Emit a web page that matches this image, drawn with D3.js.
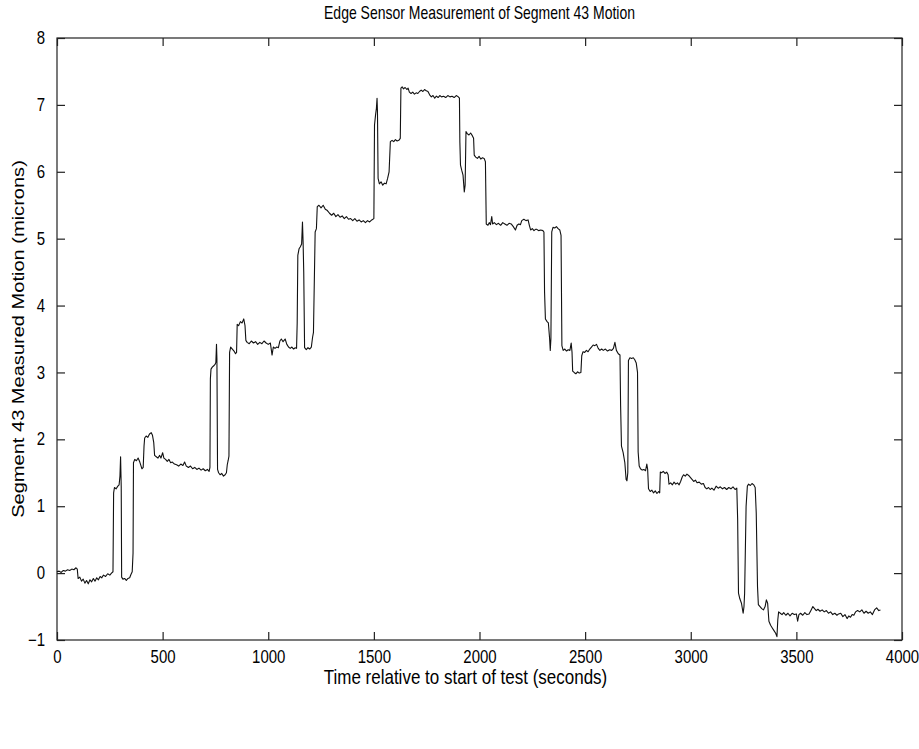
<!DOCTYPE html>
<html>
<head>
<meta charset="utf-8">
<script src="https://cdn.jsdelivr.net/npm/d3@7"></script>
<style>
  body { margin: 0; background: #fff; }
  text { font-family: "Liberation Sans", Arial, sans-serif; fill: #000; }
</style>
</head>
<body>
<div id="canvas"></div>
<script>
"use strict"

// sample times (seconds) and edge sensor readings (microns)
let times = [
  0, 10, 20, 30, 40, 50, 60, 70, 80, 90, 96,
  100, 108, 116, 124, 132, 140, 148, 156, 164, 172, 180, 188, 196, 204, 212, 220, 230, 240, 250, 258, 265,
  268, 272, 280, 288, 294, 298, 301, 304, 306, 312, 320, 328, 336, 344, 350, 356, 360, 362, 368, 376, 384, 392, 398, 402, 408, 412, 415,
  422, 430, 438, 446, 452, 458, 462, 470, 478, 486, 492, 500, 506, 514, 522, 530, 538, 546, 556, 566, 576, 586, 596, 604, 612, 622,
  632, 642, 652, 662, 672, 682, 692, 702, 712, 720, 724,
  726, 729, 735, 742, 748, 752, 755, 757, 760, 765, 772, 780, 788, 796, 802, 806, 810, 814, 817, 822, 830, 838, 845, 850, 853, 860,
  868, 876, 884, 890, 894, 900, 910, 920, 930, 940, 950, 960, 970, 980, 990, 1000, 1010, 1018, 1024, 1032, 1040, 1048, 1055, 1062,
  1070, 1080, 1088, 1096, 1104, 1112, 1120, 1128, 1134,
  1137, 1140, 1146, 1152, 1158, 1162, 1165, 1168, 1172, 1180, 1188, 1196, 1204, 1210, 1214, 1222, 1228, 1232, 1240, 1250, 1260,
  1270, 1280, 1290, 1300, 1310, 1320, 1330, 1340, 1350, 1360, 1370, 1380, 1390, 1400, 1410, 1420, 1430, 1440, 1450, 1460, 1470,
  1480, 1490, 1500,
  1503, 1508, 1512, 1515, 1517, 1520, 1526, 1534, 1542, 1550, 1558, 1565, 1572, 1578, 1586, 1594, 1602, 1610, 1618, 1625,
  1628, 1634, 1640, 1648, 1656, 1662, 1668, 1676, 1684, 1692, 1700, 1708, 1716, 1724, 1732, 1740, 1748, 1756, 1764, 1772, 1780,
  1788, 1796, 1804, 1812, 1820, 1830, 1840, 1850, 1860, 1870, 1880, 1890, 1900, 1905,
  1907, 1910, 1916, 1922, 1928, 1932, 1936, 1942, 1950, 1958, 1966, 1972, 1975, 1982, 1990, 1998, 2006, 2014, 2022, 2028,
  2032, 2040, 2046, 2052, 2058, 2062, 2070, 2080, 2090, 2100, 2110, 2120, 2130, 2140, 2150, 2160, 2170, 2178, 2186, 2194, 2200,
  2210, 2220, 2230, 2236, 2242, 2250, 2258, 2265, 2270, 2280, 2290, 2300, 2305,
  2308, 2312, 2320, 2326, 2332, 2335, 2338, 2342, 2348, 2356, 2364, 2372, 2380, 2386, 2390, 2396, 2404, 2412, 2420, 2428, 2434,
  2438, 2441, 2448, 2456, 2464, 2472, 2480, 2484, 2490, 2498, 2506, 2514, 2522, 2530, 2538, 2546, 2554, 2562, 2570, 2578, 2586,
  2596, 2606, 2616, 2626, 2634, 2641, 2648, 2657, 2665,
  2668, 2672, 2680, 2688, 2694, 2698, 2702, 2705, 2712, 2720, 2728, 2735, 2742, 2748, 2751, 2756, 2762, 2770, 2778, 2786, 2792,
  2796, 2800, 2808, 2816, 2824, 2832, 2840, 2848, 2853, 2856, 2862, 2870, 2878, 2886, 2893, 2897, 2905, 2913, 2921, 2929, 2937,
  2945, 2952, 2960, 2966, 2974, 2982, 2990, 2998, 3006, 3014, 3022, 3030, 3040, 3050, 3060, 3068, 3076, 3084, 3092, 3100, 3110,
  3120, 3130, 3140, 3150, 3160, 3170, 3180, 3190, 3200, 3210, 3218,
  3222, 3226, 3232, 3240, 3248, 3252, 3255, 3262, 3268, 3274, 3282, 3290, 3298, 3305, 3310, 3316, 3320, 3328, 3336, 3344, 3352,
  3358, 3364, 3370, 3378, 3386, 3394, 3402, 3408, 3412, 3416, 3424, 3432, 3440, 3450, 3460, 3470, 3480, 3490, 3500, 3506, 3512,
  3520, 3530, 3540, 3550, 3560, 3570, 3578, 3586, 3594, 3602, 3612, 3622, 3632, 3642, 3652, 3662, 3672, 3682, 3692, 3700, 3710,
  3720, 3730, 3740, 3748, 3756, 3764, 3772, 3780, 3790, 3800, 3810, 3820, 3830, 3840, 3850, 3860, 3870, 3880, 3890, 3898
];

let microns = [
  0.02, 0.03, 0.01, 0.04, 0.03, 0.05, 0.04, 0.06, 0.05, 0.08, 0.06,
  -0.08, -0.06, -0.12, -0.09, -0.15, -0.11, -0.16, -0.10, -0.13, -0.08, -0.12, -0.07, -0.10, -0.05, -0.07, -0.03, -0.05, -0.01, -0.03, 0.00, 0.02,
  1.20, 1.28, 1.26, 1.30, 1.32, 1.45, 1.74, 1.30, -0.06, -0.09, -0.08, -0.11, -0.08, -0.07, -0.02, 0.02, 0.30, 1.65, 1.70, 1.68, 1.72, 1.66, 1.60, 1.56, 1.58, 1.90, 2.02,
  2.05, 2.03, 2.08, 2.10, 2.06, 1.95, 1.76, 1.74, 1.72, 1.76, 1.72, 1.80, 1.72, 1.70, 1.67, 1.70, 1.65, 1.66, 1.63, 1.62, 1.60, 1.63, 1.61, 1.66, 1.60, 1.58,
  1.60, 1.56, 1.58, 1.55, 1.57, 1.54, 1.56, 1.53, 1.55, 1.52, 1.58,
  2.90, 3.05, 3.08, 3.10, 3.12, 3.15, 3.42, 3.20, 1.55, 1.50, 1.47, 1.49, 1.45, 1.47, 1.50, 1.62, 1.68, 1.75, 3.30, 3.38, 3.35, 3.32, 3.28, 3.30, 3.72, 3.70,
  3.76, 3.74, 3.80, 3.70, 3.48, 3.45, 3.43, 3.47, 3.44, 3.46, 3.42, 3.45, 3.43, 3.47, 3.44, 3.42, 3.44, 3.26, 3.38, 3.36, 3.38, 3.37, 3.47, 3.50,
  3.46, 3.50, 3.42, 3.38, 3.36, 3.38, 3.35, 3.37, 3.36,
  3.74, 4.75, 4.85, 4.88, 4.92, 5.25, 4.95, 4.50, 3.37, 3.34, 3.37, 3.35, 3.38, 3.53, 3.60, 5.10, 5.15, 5.48, 5.50, 5.46, 5.50,
  5.44, 5.42, 5.38, 5.35, 5.38, 5.33, 5.36, 5.32, 5.34, 5.30, 5.33, 5.29, 5.30, 5.27, 5.30, 5.26, 5.28, 5.25, 5.27, 5.24, 5.27,
  5.25, 5.28, 5.30,
  6.70, 6.85, 6.95, 7.10, 6.90, 5.90, 5.82, 5.85, 5.80, 5.83, 5.82, 5.90, 6.00, 6.45, 6.47, 6.45, 6.48, 6.46, 6.47, 6.50,
  7.25, 7.27, 7.24, 7.26, 7.23, 7.25, 7.19, 7.17, 7.19, 7.16, 7.18, 7.17, 7.20, 7.22, 7.20, 7.23, 7.21, 7.20, 7.15, 7.12, 7.14,
  7.10, 7.13, 7.11, 7.14, 7.12, 7.13, 7.11, 7.14, 7.12, 7.13, 7.11, 7.14, 7.12, 7.10,
  6.45, 6.10, 6.02, 5.95, 5.70, 5.80, 6.60, 6.57, 6.55, 6.58, 6.54, 6.50, 6.25, 6.22, 6.20, 6.23, 6.19, 6.21, 6.20, 6.15,
  5.22, 5.20, 5.24, 5.21, 5.33, 5.22, 5.24, 5.21, 5.23, 5.20, 5.24, 5.22, 5.20, 5.23, 5.22, 5.18, 5.13, 5.20, 5.22, 5.21, 5.27,
  5.29, 5.27, 5.28, 5.20, 5.13, 5.15, 5.12, 5.14, 5.14, 5.12, 5.13, 5.12, 5.10,
  4.20, 3.80, 3.76, 3.74, 3.50, 3.33, 3.50, 5.10, 5.17, 5.16, 5.18, 5.15, 5.13, 5.05, 3.40, 3.33, 3.35, 3.32, 3.34, 3.33, 3.44,
  3.30, 3.02, 3.00, 2.98, 3.01, 2.99, 3.00, 3.25, 3.31, 3.30, 3.33, 3.31, 3.35, 3.38, 3.41, 3.40, 3.42, 3.36, 3.33, 3.35, 3.33,
  3.35, 3.32, 3.34, 3.33, 3.36, 3.45, 3.33, 3.28, 3.26,
  2.50, 1.90, 1.80, 1.65, 1.40, 1.38, 1.50, 3.18, 3.22, 3.21, 3.22, 3.19, 3.14, 3.00, 1.81, 1.60, 1.56, 1.54, 1.55, 1.53, 1.63,
  1.55, 1.26, 1.22, 1.24, 1.20, 1.23, 1.19, 1.22, 1.20, 1.51, 1.50, 1.52, 1.49, 1.51, 1.47, 1.33, 1.35, 1.32, 1.36, 1.33, 1.35,
  1.32, 1.37, 1.44, 1.47, 1.45, 1.48, 1.46, 1.43, 1.40, 1.37, 1.39, 1.35, 1.36, 1.33, 1.34, 1.28, 1.26, 1.28, 1.25, 1.27, 1.24,
  1.30, 1.27, 1.29, 1.26, 1.28, 1.25, 1.28, 1.26, 1.29, 1.25, 1.27,
  0.80, -0.30, -0.38, -0.45, -0.60, -0.50, -0.30, 1.00, 1.30, 1.33, 1.31, 1.34, 1.32, 1.28, 0.90, -0.20, -0.47, -0.50, -0.53, -0.55, -0.50,
  -0.40, -0.45, -0.72, -0.78, -0.82, -0.86, -0.90, -0.95, -0.70, -0.58, -0.60, -0.62, -0.59, -0.63, -0.60, -0.64, -0.60, -0.62, -0.61, -0.72, -0.62,
  -0.60, -0.63, -0.59, -0.62, -0.61, -0.55, -0.50, -0.53, -0.56, -0.54, -0.57, -0.55, -0.58, -0.56, -0.60, -0.58, -0.62, -0.60, -0.63, -0.61, -0.60,
  -0.65, -0.62, -0.68, -0.64, -0.66, -0.62, -0.63, -0.58, -0.56, -0.58, -0.55, -0.60, -0.57, -0.60, -0.58, -0.62, -0.55, -0.52, -0.56, -0.55
];

let xTicks = [0, 500, 1000, 1500, 2000, 2500, 3000, 3500, 4000];
let yTicks = [-1, 0, 1, 2, 3, 4, 5, 6, 7, 8];

let drawingWidth = 919;
let drawingHeight = 749;

let plotLeft = 57;
let plotRight = 902;
let plotTop = 38;
let plotBottom = 640;
let tickLength = 8;
let stretch = 1.18;   // text in the picture is a little taller than wide

let drawing = d3.select("#canvas")
    .append("svg")
    .attr("width", drawingWidth)
    .attr("height", drawingHeight);

drawing.append("rect")
    .attr("width", drawingWidth)
    .attr("height", drawingHeight)
    .attr("fill", "white");

let xScale = d3.scaleLinear().domain([0, 4000]).range([plotLeft, plotRight]);
let yScale = d3.scaleLinear().domain([-1, 8]).range([plotBottom, plotTop]);

// box around the plot
drawing.append("rect")
    .attr("x", plotLeft)
    .attr("y", plotTop)
    .attr("width", plotRight - plotLeft)
    .attr("height", plotBottom - plotTop)
    .attr("fill", "none")
    .attr("stroke", "#222")
    .attr("stroke-width", 1.2);

// matlab style axes: ticks point inwards, on all four sides
let bottomAxis = d3.axisBottom(xScale).tickValues(xTicks).tickFormat(d3.format("d"))
    .tickSizeInner(-tickLength).tickSizeOuter(0).tickPadding(11);
let topAxis = d3.axisTop(xScale).tickValues(xTicks).tickSizeInner(-tickLength).tickSizeOuter(0).tickFormat("");
let leftAxis = d3.axisLeft(yScale).tickValues(yTicks).tickFormat(d3.format("d"))
    .tickSizeInner(-tickLength).tickSizeOuter(0).tickPadding(12);
let rightAxis = d3.axisRight(yScale).tickValues(yTicks).tickSizeInner(-tickLength).tickSizeOuter(0).tickFormat("");

let axisGroups = [
  drawing.append("g").attr("transform", "translate(0," + plotBottom + ")").call(bottomAxis),
  drawing.append("g").attr("transform", "translate(0," + plotTop + ")").call(topAxis),
  drawing.append("g").attr("transform", "translate(" + plotLeft + ",0)").call(leftAxis),
  drawing.append("g").attr("transform", "translate(" + plotRight + ",0)").call(rightAxis)
];

axisGroups.forEach(function(g) {
  g.select(".domain").remove();
  g.selectAll(".tick line").attr("stroke", "#222").attr("stroke-width", 1.2);
  g.selectAll(".tick text")
    .style("font-family", "'Liberation Sans', Arial, sans-serif")
    .style("font-size", "15px")
    .attr("fill", "#000");
});

// stretch tick labels vertically about their own anchor
axisGroups[0].selectAll(".tick text")
    .attr("transform", "translate(0,12) scale(1," + stretch + ") translate(0,-12)");
axisGroups[2].selectAll(".tick text")
    .attr("transform", "scale(1," + stretch + ")");

// the measurement trace
let points = times.map(function(t, i) { return [t, microns[i]]; });

let traceLine = d3.line()
    .x(function(d) { return xScale(d[0]); })
    .y(function(d) { return yScale(d[1]); });

drawing.append("path")
    .datum(points)
    .attr("d", traceLine)
    .attr("fill", "none")
    .attr("stroke", "#111")
    .attr("stroke-width", 1.1)
    .attr("stroke-linejoin", "round");

// titles
let midX = (plotLeft + plotRight) / 2;
let midY = (plotTop + plotBottom) / 2;

drawing.append("text")
    .attr("transform", "translate(" + midX + ",19) scale(1,1.25)")
    .attr("text-anchor", "middle")
    .style("font-size", "14px")
    .text("Edge Sensor Measurement of Segment 43 Motion");

drawing.append("text")
    .attr("transform", "translate(" + (midX - 14) + ",684) scale(1," + stretch + ")")
    .attr("text-anchor", "middle")
    .style("font-size", "17px")
    .text("Time relative to start of test (seconds)");

drawing.append("text")
    .attr("transform", "translate(24," + midY + ") rotate(-90) scale(" + stretch + ",1)")
    .attr("text-anchor", "middle")
    .style("font-size", "17px")
    .text("Segment 43 Measured Motion (microns)");
</script>
</body>
</html>
